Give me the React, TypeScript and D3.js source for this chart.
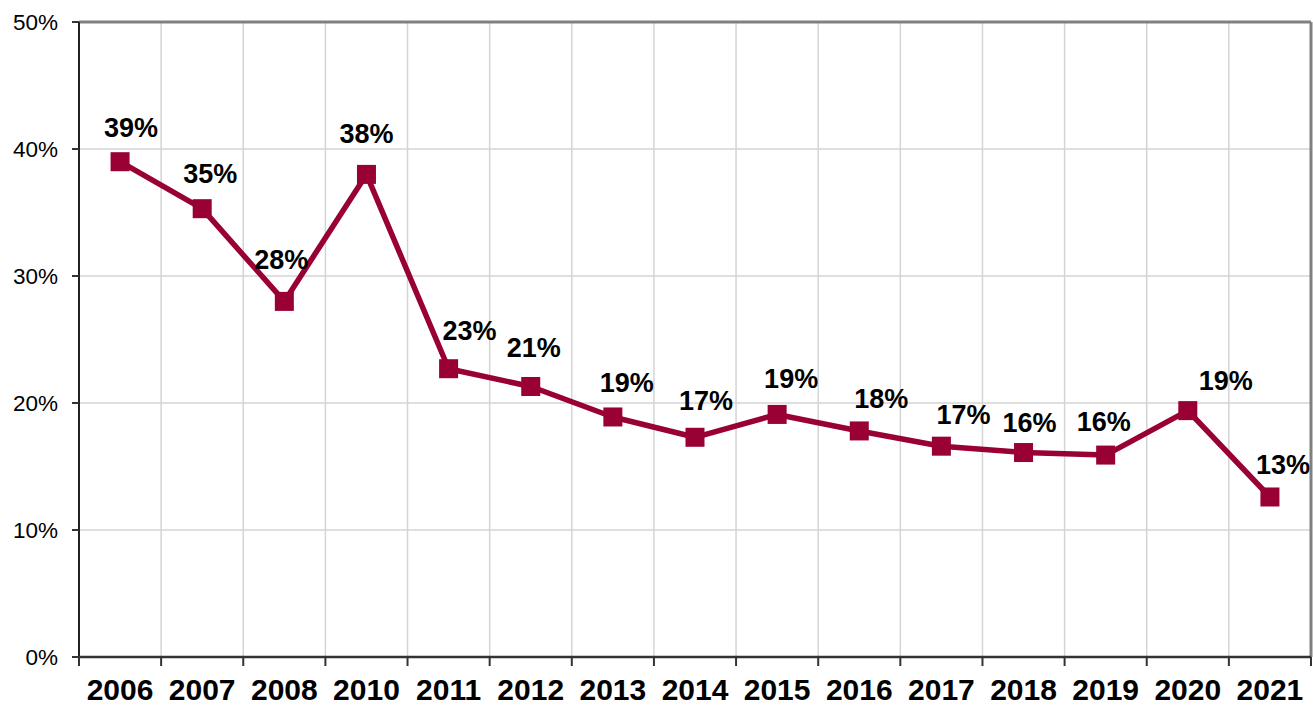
import React from "react"
import { scaleBand, scaleLinear, line } from "d3"

const years = ["2006", "2007", "2008", "2010", "2011", "2012", "2013", "2014", "2015", "2016", "2017", "2018", "2019", "2020", "2021"]
const shares = [39.0, 35.3, 28.0, 38.0, 22.7, 21.3, 18.9, 17.3, 19.1, 17.8, 16.6, 16.1, 15.9, 19.4, 12.6]
const labels = ["39%", "35%", "28%", "38%", "23%", "21%", "19%", "17%", "19%", "18%", "17%", "16%", "16%", "19%", "13%"]
const yTicks = [0, 10, 20, 30, 40, 50]

// hand-placed label nudges (dx, dy of baseline) like the original
const labelNudge = [
    [11, -25], [8, -26], [-3, -32], [0, -31], [21, -29], [3, -29], [14, -25], [11, -27],
    [14, -26], [22, -23], [22, -22], [6, -21], [-2, -24], [38, -21], [13, -23],
]

const W = 1313
const H = 706
const margin = { top: 22, right: 2, bottom: 49, left: 79 }
const RED = "#990033"

export default function App() {
    const width = W - margin.left - margin.right
    const height = H - margin.top - margin.bottom

    const x = scaleBand().domain(years).range([0, width]).padding(0)
    const y = scaleLinear().domain([0, 50]).range([height, 0])
    const cx = (d) => x(d) + x.bandwidth() / 2

    const path = line()
        .x((d, i) => cx(years[i]))
        .y((d) => y(d))(shares)

    const bounds = years.map((d) => x(d)).concat([width])

    return (
        <svg width={W} height={H} style={{ position: "absolute", left: 0, top: 0, background: "#fff" }}
            fontFamily="'Liberation Sans', Arial, sans-serif">
            <g transform={"translate(" + margin.left + "," + margin.top + ")"}>
                {/* grid */}
                {yTicks.map((t) => (
                    <line key={"h" + t} x1={0} x2={width} y1={y(t)} y2={y(t)} stroke="#d4d4d4" strokeWidth={1.5} />
                ))}
                {bounds.slice(1, -1).map((b, i) => (
                    <line key={"v" + i} x1={b} x2={b} y1={0} y2={height} stroke="#d4d4d4" strokeWidth={1.5} />
                ))}
                {/* frame */}
                <line x1={0} x2={width} y1={0} y2={0} stroke="#808080" strokeWidth={3} />
                <line x1={width} x2={width} y1={0} y2={height} stroke="#808080" strokeWidth={3} />
                <line x1={0} x2={0} y1={0} y2={height} stroke="#222" strokeWidth={2} />
                <line x1={0} x2={width} y1={height} y2={height} stroke="#333" strokeWidth={2.5} />

                {/* y axis */}
                {yTicks.map((t) => (
                    <g key={"yt" + t}>
                        <line x1={-7} x2={0} y1={y(t)} y2={y(t)} stroke="#333" strokeWidth={2} />
                        <text x={-21} y={y(t)} dy="0.36em" textAnchor="end" fontSize={22.5} fill="#000">{t + "%"}</text>
                    </g>
                ))}

                {/* x axis */}
                {bounds.map((b, i) => (
                    <line key={"xt" + i} x1={b} x2={b} y1={height} y2={height + 9} stroke="#333" strokeWidth={2} />
                ))}
                {years.map((d) => (
                    <text key={"xl" + d} x={cx(d)} y={height + 43} textAnchor="middle" fontSize={30} fontWeight="bold" fill="#000">{d}</text>
                ))}

                {/* series */}
                <path d={path} fill="none" stroke={RED} strokeWidth={5.5} strokeLinejoin="round" />
                {shares.map((v, i) => (
                    <rect key={"m" + i} x={cx(years[i]) - 9.5} y={y(v) - 9.5} width={19} height={19} fill={RED} />
                ))}
                {shares.map((v, i) => (
                    <text key={"l" + i} x={cx(years[i]) + labelNudge[i][0]} y={y(v) + labelNudge[i][1]}
                        textAnchor="middle" fontSize={27} fontWeight="bold" fill="#000">{labels[i]}</text>
                ))}
            </g>
        </svg>
    )
}
